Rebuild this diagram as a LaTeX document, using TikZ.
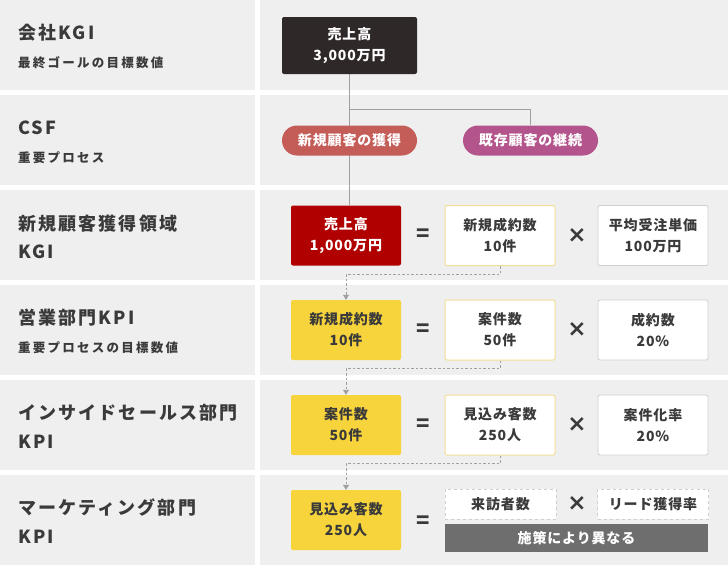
\documentclass[tikz,border=0pt]{standalone}
\usepackage{fontspec}
\usepackage{tikz}
\usetikzlibrary{arrows.meta}
\setmainfont{Noto Sans CJK JP}
\newfontfamily\jpbig{Noto Sans CJK JP}[LetterSpace=12]
\newfontfamily\jpsmall{Noto Sans CJK JP}[LetterSpace=18]
\newfontfamily\jpbox{Noto Sans CJK JP}[LetterSpace=6]
\newfontfamily\opfont{DejaVu Sans}

\definecolor{panelgray}{HTML}{EFEFEF}
\definecolor{inkgray}{HTML}{3A3A3A}
\definecolor{topbrown}{HTML}{2F2828}
\definecolor{kgired}{HTML}{B00000}
\definecolor{pillred}{HTML}{C45C58}
\definecolor{pillpurple}{HTML}{B3558C}
\definecolor{kpiyellow}{HTML}{F7D33C}
\definecolor{lineyellow}{HTML}{F2DE96}
\definecolor{boxline}{HTML}{CFCFCF}
\definecolor{bargray}{HTML}{6E6E6E}
\definecolor{wiregray}{HTML}{A0A0A0}

\pgfdeclarelayer{panel}
\pgfdeclarelayer{wire}
\pgfsetlayers{panel,wire,main}

\tikzset{
  rowtitle/.style={anchor=west, inner sep=0pt, text=inkgray, font=\jpbig\bfseries\fontsize{18}{22}\selectfont},
  rowsub/.style={anchor=west, inner sep=0pt, text=inkgray, font=\jpsmall\bfseries\fontsize{12.5}{15}\selectfont},
  valbox/.style={inner sep=0pt, align=center, minimum width=110pt, minimum height=60pt,
    rounded corners=2pt, font=\jpbox\bfseries\fontsize{14}{21}\selectfont},
  topbox/.style={valbox, fill=topbrown, text=white, minimum width=135pt, minimum height=57pt},
  kgibox/.style={valbox, fill=kgired, text=white},
  kpibox/.style={valbox, fill=kpiyellow, text=inkgray},
  factor/.style={valbox, fill=white, draw=lineyellow, line width=1pt, text=inkgray},
  plainbox/.style={valbox, fill=white, draw=boxline, line width=0.8pt, text=inkgray},
  dashbox/.style={valbox, fill=white, draw=boxline, dashed, line width=0.8pt, text=inkgray,
    minimum width=111pt, minimum height=30pt, rounded corners=0pt},
  barbox/.style={valbox, fill=bargray, text=white, minimum width=263pt, minimum height=28pt, rounded corners=0pt},
  pill/.style={inner sep=0pt, minimum width=135pt, minimum height=30pt, rounded corners=15pt,
    text=white, font=\jpbox\bfseries\fontsize{14}{17}\selectfont},
  op/.style={inner sep=0pt, text=inkgray, font=\bfseries\fontsize{22}{22}\selectfont},
  times/.style={inner sep=0pt, text=inkgray, font=\opfont\bfseries\fontsize{23}{23}\selectfont},
  tree/.style={draw=wiregray, line width=0.8pt},
  flow/.style={draw=wiregray, line width=0.8pt, dashed, dash pattern=on 2.5pt off 2pt,
    -{Triangle[width=6pt,length=5pt]}},
}

\begin{document}
\begin{tikzpicture}[x=1pt, y=-1pt]
        \useasboundingbox (0,0) rectangle (728,566);
        \begin{pgfonlayer}{panel}
          \foreach \r in {0,...,5} {
            \fill[panelgray] (0,\r*95) rectangle (255,\r*95+90);
            \fill[panelgray] (260,\r*95) rectangle (728,\r*95+90);
          }
        \end{pgfonlayer}
        % row titles
        \node (t1) at (18,33) [rowtitle] {会社KGI};
        \node (s1) at (18,63) [rowsub] {最終ゴールの目標数値};
        \node (t2) at (18,128) [rowtitle] {CSF};
        \node (s2) at (18,158) [rowsub] {重要プロセス};
        \node (t3) at (18,224) [rowtitle] {新規顧客獲得領域};
        \node (s3) at (18,252) [rowtitle] {KGI};
        \node (t4) at (18,318) [rowtitle] {営業部門KPI};
        \node (s4) at (18,348) [rowsub] {重要プロセスの目標数値};
        \node (t5) at (18,413) [rowtitle] {インサイドセールス部門};
        \node (s5) at (18,442) [rowtitle] {KPI};
        \node (t6) at (18,507) [rowtitle] {マーケティング部門};
        \node (s6) at (18,537) [rowtitle] {KPI};
        % company KGI and CSF
        \node (goal) at (349.5,45.5) [topbox] {売上高\\3,000万円};
        \node (newcust) at (349.5,140.5) [pill, fill=pillred] {新規顧客の獲得};
        \node (oldcust) at (530.5,140.5) [pill, fill=pillpurple] {既存顧客の継続};
        \coordinate (forkrow) at (0,109);
        % new customer KGI
        \node (sales) at (346,235.5) [kgibox] {売上高\\1,000万円};
        \node (eq3) at (423,235.5) [op] {=};
        \node (deals) at (500,235.5) [factor] {新規成約数\\10件};
        \node (x3) at (577,235.5) [times] {×};
        \node (price) at (653,235.5) [plainbox] {平均受注単価\\100万円};
        % sales KPI
        \node (deals2) at (346,330) [kpibox] {新規成約数\\10件};
        \node (eq4) at (423,330) [op] {=};
        \node (cases) at (500,330) [factor] {案件数\\50件};
        \node (x4) at (577,330) [times] {×};
        \node (winrate) at (653,330) [plainbox] {成約数\\20\%};
        % inside sales KPI
        \node (cases2) at (346,425) [kpibox] {案件数\\50件};
        \node (eq5) at (423,425) [op] {=};
        \node (leads) at (500,425) [factor] {見込み客数\\250人};
        \node (x5) at (577,425) [times] {×};
        \node (caserate) at (653,425) [plainbox] {案件化率\\20\%};
        % marketing KPI
        \node (leads2) at (346,520) [kpibox] {見込み客数\\250人};
        \node (eq6) at (423,522) [op] {=};
        \node (visitors) at (500.5,504) [dashbox] {来訪者数};
        \node (x6) at (577,504) [times] {×};
        \node (leadrate) at (653,504) [dashbox] {リード獲得率};
        \node (measure) at (576.5,538) [barbox] {施策により異なる};
        \begin{pgfonlayer}{wire}
          \draw[tree] (goal.south) -- (goal.south |- sales.north);
          \draw[tree] (goal.south |- forkrow) -| (oldcust.north);
          \draw[flow] (deals.south) -- ++(0,8) -| (deals2.north);
          \draw[flow] (cases.south) -- ++(0,8) -| (cases2.north);
          \draw[flow] (leads.south) -- ++(0,8) -| (leads2.north);
        \end{pgfonlayer}
      \end{tikzpicture}
\end{document}
